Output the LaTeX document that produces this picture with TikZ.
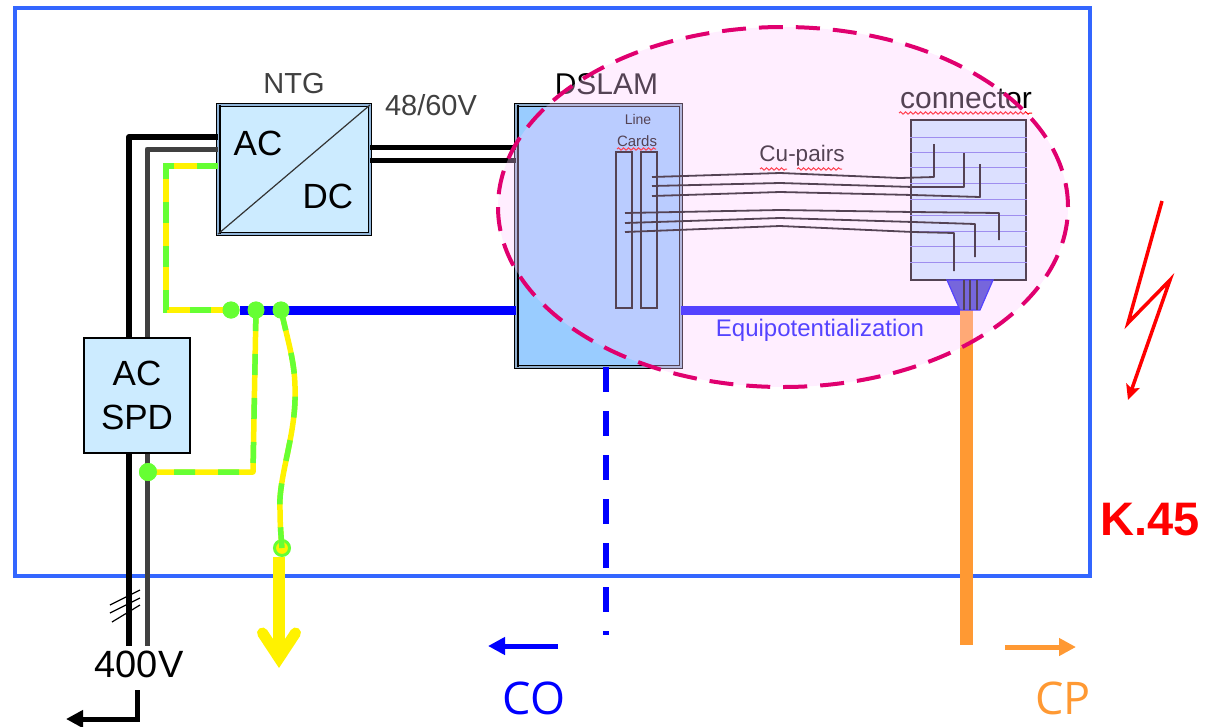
\documentclass[tikz,border=0pt]{standalone}
\usepackage{fontspec}
\setmainfont{Liberation Sans}
\newfontfamily\sidefont{Open Sans}
\usetikzlibrary{arrows.meta,positioning,shapes.geometric,decorations.pathmorphing}

\definecolor{boxblue}{HTML}{CCEBFF}
\definecolor{slamblue}{HTML}{99CCFF}
\definecolor{framecol}{HTML}{3366FF}
\definecolor{zonecol}{HTML}{FFCCFF}
\definecolor{dashcol}{HTML}{E0006F}
\definecolor{earthgreen}{HTML}{66FF33}
\definecolor{cablecol}{HTML}{FF9933}
\definecolor{hatchcol}{HTML}{7070E8}
\definecolor{glandcol}{HTML}{3434CC}

\tikzset{
    txt/.style={font=\fontsize{#1}{#1}\selectfont,inner sep=0pt},
    sidetxt/.style={font=\fontsize{45}{45}\selectfont\sidefont,inner sep=0pt},
    dblbox/.style={draw=black,line width=1.3pt,double=#1,double distance=1.5pt,inner sep=0pt,outer sep=0pt},
    earth/.style={line width=5.5pt,draw=yellow,postaction={draw=earthgreen,dash pattern=on 21pt off 23pt}},
    wire/.style={draw=black,line width=1.8pt,line join=round},
    squiggle/.style={draw=red,line width=1pt,decorate,decoration={snake,amplitude=1.2pt,segment length=5pt}},
    dot/.style={circle,fill=earthgreen,inner sep=0pt,minimum size=#1},
    flow/.style={line width=5pt,-{Triangle[length=17pt,width=17pt]}}
}

\begin{document}
\begin{tikzpicture}[x=1pt,y=-1pt]
    \useasboundingbox (0,0) rectangle (1218,726);
    \draw[framecol,line width=4pt] (15,8) rectangle (1090,576);

    % boxes
    \node[dblbox=slamblue!70!gray,fill=boxblue,minimum width=152pt,minimum height=129pt] (ntg) at (294,169.5) {};
    \node[dblbox=slamblue!60!gray,fill=slamblue,minimum width=165pt,minimum height=262pt] (dslam) at (598.5,236) {};
    \draw[black,line width=2pt] ([xshift=2pt]ntg.north west) -- ([xshift=2pt]ntg.south west);
    \draw[black,line width=2pt] ([xshift=2pt]dslam.north west) -- ([xshift=2pt]dslam.south west);
    \node[draw=black,line width=1.4pt,fill=boxblue,minimum width=115pt,minimum height=160pt,inner sep=0pt] (conn) at (968.5,200) {};
    \node[draw=black,line width=1.2pt,minimum width=16pt,minimum height=156pt,inner sep=0pt] (card1) at (624,230) {};
    \node[draw=black,line width=1.2pt,minimum width=16pt,minimum height=156pt,inner sep=0pt] (card2) at (649,230) {};

    % mains
    \coordinate (blk) at (129,137);
    \coordinate (gry) at (147,149);
    \coordinate (blkend) at (129,646);
    \coordinate (gryend) at (147,646);
    \draw[black,line width=6pt,line join=round] (ntg.west |- blk) -- (blk) -- (blkend);
    \draw[black!75,line width=5pt,line join=round] (ntg.west |- gry) -- (gry) -- (gryend);
    \node[draw=black,line width=1.2pt,fill=boxblue,minimum width=106pt,minimum height=115pt,inner sep=0pt,align=center,font=\fontsize{35}{44}\selectfont] (spd) at (137,395.5) {AC\\SPD};
    \draw[black,line width=1.2pt] (110,605) -- (140,590) (110,613) -- (140,598) (112,622) -- (140,605);

    % dc side
    \draw[black,line width=5pt] (ntg.east |- 0,147) -- (dslam.west |- 0,147);
    \draw[black,line width=5pt] (ntg.east |- 0,160) -- (dslam.west |- 0,160);
    \draw[black!80,line width=1.2pt] (ntg.south west) -- (ntg.north east);

    % bonding bar and cable
    \coordinate (bar) at (960,310);
    \node[dot=17pt] (e1) at (231,310) {};
    \node[dot=17pt] (e2) at (256,310) {};
    \node[dot=17pt] (e3) at (281,310) {};
    \draw[blue,line width=9pt] (e1) -- (dslam.west |- e1);
    \draw[blue,line width=9pt] (dslam.east |- e1) -- (bar);
    \draw[cablecol,line width=13pt] (966,310) -- (966,645);

    % gland
    \draw[draw=blue,line width=1.2pt,fill=glandcol] (947,280) -- (993,280) -- (980,310) -- (960,310) -- cycle;
    \draw[black,line width=1.4pt] (964,280) -- (964,310) (970,280) -- (970,310) (977,280) -- (977,310);

    % connector strips
    \draw[hatchcol,line width=1pt] (conn.west |- 0,137) -- (conn.east |- 0,137)
        (conn.west |- 0,152) -- (conn.east |- 0,152)
        (conn.west |- 0,167) -- (conn.east |- 0,167)
        (conn.west |- 0,183) -- (conn.east |- 0,183)
        (conn.west |- 0,199) -- (conn.east |- 0,199)
        (conn.west |- 0,215) -- (conn.east |- 0,215)
        (conn.west |- 0,231) -- (conn.east |- 0,231)
        (conn.west |- 0,246) -- (conn.east |- 0,246)
        (conn.west |- 0,262) -- (conn.east |- 0,262);

    % pairs
    \draw[wire] (652,177) -- (780,173) -- (900,178) -- (934,177) -- (934,144);
    \draw[wire] (652,186) -- (780,183) -- (913,187) -- (964,187) -- (964,153);
    \draw[wire] (652,196) -- (780,192) -- (913,195) -- (980,197) -- (980,164);
    \draw[wire] (625,213) -- (780,210) -- (913,212) -- (999,213) -- (999,240);
    \draw[wire] (625,223) -- (780,218) -- (913,222) -- (975,224) -- (975,257);
    \draw[wire] (625,232) -- (780,226) -- (913,232) -- (954,233) -- (954,271);

    % labels below the zone
    \node[txt=30,above=10pt of dslam,xshift=8pt] (dslamlbl) {DSLAM};
    \node[txt=30] (connlbl) at (966,99) {connector};
    \node[txt=22.5] (culbl) at (802,156) {Cu-pairs};
    \node[txt=24,text=blue] (equi) at (820,330) {Equipotentialization};
    \node[txt=14] (line) at (638,119) {Line};
    \node[txt=15] (cards) at (637,141) {Cards};
    \draw[squiggle] (617,149) -- (656,149);
    \draw[squiggle] (760,169) -- (787,169);
    \draw[squiggle] (797,169) -- (842,169);
    \draw[squiggle] (899,113) -- (1032,113);

    % zone
    \node[ellipse,draw=dashcol,line width=4pt,dash pattern=on 24pt off 13pt,fill=zonecol,fill opacity=.33,draw opacity=1,minimum width=570pt,minimum height=360pt,inner sep=0pt] (zone) at (783,207) {};

    % earthing
    \coordinate (ebend) at (166,310);
    \coordinate (ekink) at (253,472);
    \node[dot=18pt] (e4) at (148,472) {};
    \node[circle,draw=earthgreen,line width=3pt,fill=yellow,inner sep=0pt,minimum size=15pt] (e5) at (282,548) {};
    \draw[earth] (ntg.west |- 0,166) -| (ebend) -- (e1.center);
    \draw[earth,line join=round] (e2.center) -- (ekink) -- (e4.center);
    \draw[earth] (e3.center) .. controls (290,350) and (296,365) .. (295,400) .. controls (294,440) and (278,480) .. (280,510) .. controls (280,525) and (281,535) .. (e5.center);
    \node[dot=17pt] at (e1) {};
    \node[dot=17pt] at (e2) {};
    \node[dot=17pt] at (e3) {};
    \node[dot=18pt] at (e4) {};
    \coordinate (droptip) at (279,658);
    \coordinate (dropl) at (262.5,633);
    \coordinate (dropr) at (295.5,633);
    \draw[yellow,line width=12pt] (e5.south -| droptip) -- (droptip);
    \draw[yellow,line width=11pt,line cap=round,line join=miter] (dropl) -- (droptip) -- (dropr);

    % outside
    \draw[blue,line width=6pt,dash pattern=on 25pt off 19pt] (dslam.south -| 606,0) -- (606,635);
    \coordinate (feedtop) at (137,690);
    \coordinate (feedend) at (66,719);
    \draw[black,flow] (feedtop) |- (feedend);
    \coordinate (coa) at (558,646);
    \coordinate (cob) at (488,646);
    \coordinate (cpa) at (1005,647);
    \coordinate (cpb) at (1076,647);
    \draw[blue,flow] (coa) -- (cob);
    \draw[cablecol,flow] (cpa) -- (cpb);
    \coordinate (bolt1) at (1162,201);
    \coordinate (bolt2) at (1128,323);
    \coordinate (bolt3) at (1170,280);
    \coordinate (bolt4) at (1128,400);
    \draw[red,line width=3.5pt,line join=miter,-{Stealth[length=15pt,width=14pt,inset=3pt]}] (bolt1) -- (bolt2) -- (bolt3) -- (bolt4);

    % text
    \node[txt=29,text=black!75,above=11pt of ntg] (ntglbl) {NTG};
    \node[txt=29,text=black!75] (volt) at (431,105) {48/60V};
    \node[txt=35] (ac) at (258,143) {AC};
    \node[txt=35] (dc) at (328,196) {DC};
    \node[txt=38] (mains) at (139,664) {400V};
    \node[inner sep=0pt,text=red,font=\fontsize{47}{47}\selectfont\bfseries] (k45) at (1150,520) {K.45};
    \node[sidetxt,text=blue] (co) at (534,698) {CO};
    \node[sidetxt,text=cablecol] (cp) at (1063,698) {CP};
\end{tikzpicture}
\end{document}
